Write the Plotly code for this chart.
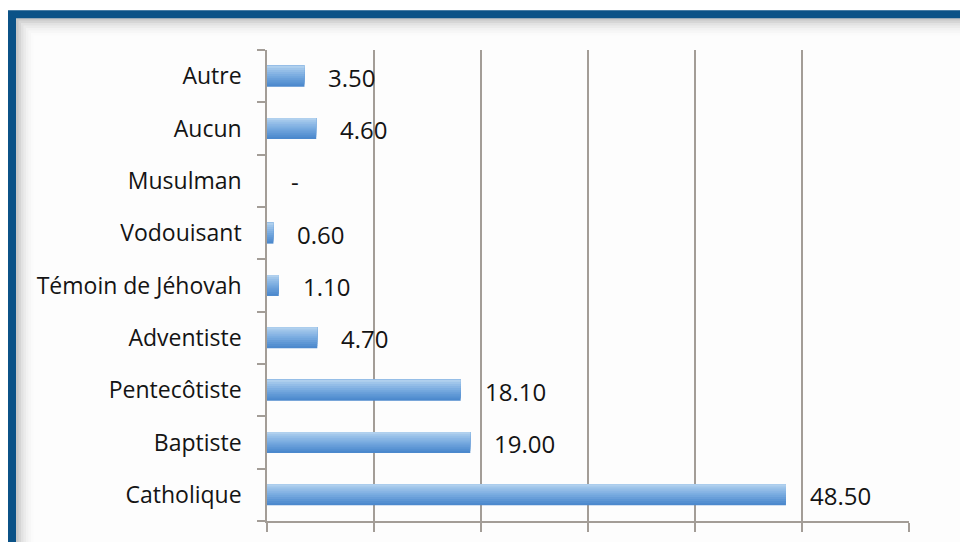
import plotly.graph_objects as go

categories = ["Catholique", "Baptiste", "Pentecôtiste", "Adventiste", "Témoin de Jéhovah",
              "Vodouisant", "Musulman", "Aucun", "Autre"]
values = [48.50, 19.00, 18.10, 4.70, 1.10, 0.60, 0.0, 4.60, 3.50]
value_labels = ["48.50", "19.00", "18.10", "4.70", "1.10", "0.60", "-", "4.60", "3.50"]
x_ticks = [0, 10, 20, 30, 40, 50, 60]

FONT = "Open Sans"
fig = go.Figure()

# gradient-like bars: overlay layers (bottom darker -> top lighter)
layers = [
    ("#4c89cd", -0.20, 0.40),
    ("#5590d1", -0.16, 0.36),
    ("#5e97d5", -0.12, 0.32),
    ("#689ed9", -0.08, 0.28),
    ("#72a6dd", -0.04, 0.24),
    ("#7daee1", 0.00, 0.20),
    ("#88b5e4", 0.04, 0.16),
    ("#93bde7", 0.08, 0.12),
    ("#9fc5ea", 0.12, 0.08),
    ("#b0d0ee", 0.16, 0.04),
]
for color, off, w in layers:
    fig.add_trace(go.Bar(
        y=categories, x=values, orientation="h",
        marker=dict(color=color, line=dict(width=0)),
        width=w, offset=off, hoverinfo="skip", showlegend=False,
    ))

for c, v, t in zip(categories, values, value_labels):
    fig.add_annotation(x=v, y=c, text=t, showarrow=False, xanchor="left",
                       xshift=22, yshift=-1, font=dict(family=FONT, size=24, color="#141414"))

L, R, T, B = 267, 909, 50, 523
W, H = R - L, B - T

def px(x):
    return (x - L) / W

def py(y):
    return (B - y) / H

shapes = []
shapes.append(dict(type="rect", xref="paper", yref="paper", x0=px(8), x1=px(990),
                   y0=py(560), y1=py(10), fillcolor="#0b5287", line=dict(width=0), layer="below"))
shades = ["#c8c8c8", "#d6d6d6", "#e2e2e2", "#ebebeb", "#f2f2f2", "#f7f7f7", "#fbfbfb", "#fdfdfd"]
for i, col in enumerate(shades):
    shapes.append(dict(type="rect", xref="paper", yref="paper", x0=px(16 + i * 2.5), x1=px(990),
                       y0=py(560), y1=py(18 + i * 2.5), fillcolor=col, line=dict(width=0), layer="below"))
fig.update_layout(shapes=shapes)

fig.update_layout(
    width=960, height=542,
    margin=dict(l=L, r=960 - R, t=T, b=542 - B),
    paper_bgcolor="white", plot_bgcolor="rgba(0,0,0,0)",
    barmode="overlay",
    xaxis=dict(range=[0, 60], tickvals=x_ticks, showticklabels=False,
               showgrid=True, gridcolor="#a39d97", gridwidth=1.5,
               showline=True, linecolor="#a39d97", linewidth=1.5,
               ticks="outside", ticklen=9, tickcolor="#a39d97", tickwidth=1.5,
               zeroline=False, fixedrange=True),
    yaxis=dict(categoryorder="array", categoryarray=categories,
               showline=True, linecolor="#a39d97", linewidth=1.5,
               ticks="outside", ticklen=8, tickcolor="#a39d97", tickwidth=1.5,
               tickson="boundaries", ticklabelstandoff=19,
               tickfont=dict(family=FONT, size=23, color="#141414"),
               showgrid=False, zeroline=False, fixedrange=True),
    font=dict(family=FONT),
)

fig.write_html("out.html", config={"displayModeBar": False},
               post_script="document.body.style.margin='0';document.body.style.overflow='hidden';")
